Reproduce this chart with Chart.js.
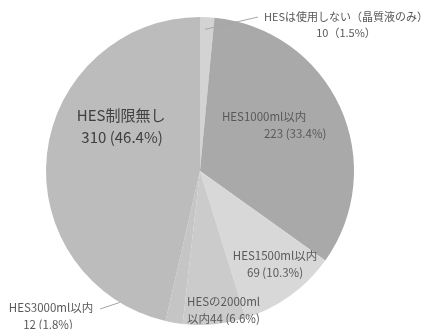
<!DOCTYPE html>
<html lang="ja">
<head>
<meta charset="utf-8">
<title>HES使用制限</title>
<script src="https://cdn.jsdelivr.net/npm/chart.js@4"></script>
<style>
    html, body { margin: 0; padding: 0; background: #fff; }
    #wrap { position: relative; width: 429px; height: 329px; }
</style>
</head>
<body>
<div id="wrap"><canvas id="pieChart"></canvas></div>
<script>
// 回答数（施設）
const categories = ['HESは使用しない（晶質液のみ）', 'HES1000ml以内', 'HES1500ml以内', 'HESの2000ml以内', 'HES3000ml以内', 'HES制限無し'];
const counts = [10, 223, 69, 44, 12, 310];
const percents = [1.5, 33.4, 10.3, 6.6, 1.8, 46.4];

const sliceColors = ['#d3d3d3', '#a9a9a9', '#d8d8d8', '#cbcbcb', '#c5c5c5', '#bcbcbc'];

const FONT = '"Noto Sans CJK JP", "Noto Sans", sans-serif';

// ラベルの配置（角度は真上から時計回り、r は半径に対する比率）
const labelSpecs = [
    { angle: 2, r: 0.92, outside: { x: 346, y: 17, lineEnd: [258, 17] }, lines: i => [categories[i], `${counts[i]}（${percents[i]}%）`], size: 11, color: '#595959' },
    { angle: 56.7, r: 0.545, lines: i => [categories[i], `${counts[i]} (${percents[i]}%)`], dx: [-6, 25], size: 11.5, color: '#595959' },
    { angle: 141.1, r: 0.776, lines: i => [categories[i], `${counts[i]} (${percents[i]}%)`], dx: [0, 0], size: 11.5, color: '#595959' },
    { angle: 185.3, r: 0.906, lines: i => ['HESの2000ml', `以内${counts[i]} (${percents[i]}%)`], align: 'left', size: 11.5, color: '#595959' },
    { angle: 211.4, r: 1.0, outside: { x: 51, y: 308, lineEnd: [100, 309] }, lines: i => [categories[i], `${counts[i]} (${percents[i]}%)`], dx: [0, -3], size: 11.5, color: '#595959' },
    { angle: 299.7, r: 0.59, lines: i => [categories[i], `${counts[i]} (${percents[i]}%)`], dx: [0, 1], size: 15, color: '#404040' }
];

function polar(arc, deg, frac) {
    const a = deg * Math.PI / 180;
    return {
        x: arc.x + Math.sin(a) * arc.outerRadius * frac,
        y: arc.y - Math.cos(a) * arc.outerRadius * frac
    };
}

const sliceLabels = {
    id: 'sliceLabels',
    afterDatasetsDraw(chart) {
        const ctx = chart.ctx;
        const arcs = chart.getDatasetMeta(0).data;
        ctx.save();
        labelSpecs.forEach((spec, i) => {
            const arc = arcs[i];
            const p = polar(arc, spec.angle, spec.r);
            const lines = spec.lines(i);
            const lh = spec.size * 1.45;
            let cx = p.x, cy = p.y - lh / 2;

            if (spec.outside) {
                // 引き出し線
                ctx.strokeStyle = '#a6a6a6';
                ctx.lineWidth = 1;
                ctx.beginPath();
                ctx.moveTo(p.x, p.y);
                ctx.lineTo(spec.outside.lineEnd[0], spec.outside.lineEnd[1]);
                ctx.stroke();
                cx = spec.outside.x;
                cy = spec.outside.y;
            }

            ctx.font = `${spec.size}px ${FONT}`;
            ctx.fillStyle = spec.color;
            ctx.textBaseline = 'middle';
            ctx.textAlign = spec.align || 'center';
            lines.forEach((t, k) => {
                const dx = spec.dx ? spec.dx[k] : 0;
                ctx.fillText(t, cx + dx, cy + k * lh);
            });
        });
        ctx.restore();
    }
};

new Chart(document.getElementById('pieChart'), {
    type: 'pie',
    data: {
        labels: categories,
        datasets: [{
            data: counts,
            backgroundColor: sliceColors,
            borderWidth: 0
        }]
    },
    options: {
        responsive: true,
        maintainAspectRatio: false,
        animation: false,
        layout: { padding: { top: 17, bottom: 4, left: 46, right: 75 } },
        plugins: {
            legend: { display: false },
            tooltip: { enabled: false }
        }
    },
    plugins: [sliceLabels]
});
</script>
</body>
</html>
